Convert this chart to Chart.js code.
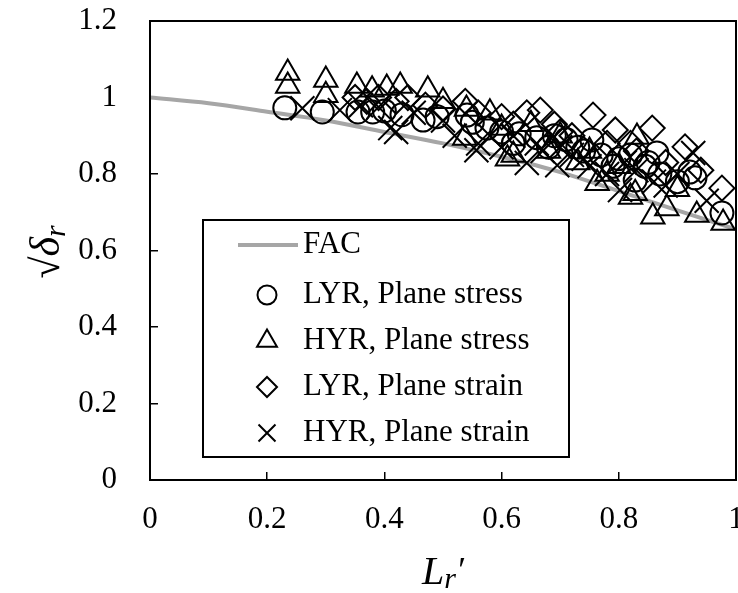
<!DOCTYPE html>
<html>
<head>
<meta charset="utf-8">
<script src="https://cdn.jsdelivr.net/npm/chart.js@4/dist/chart.umd.min.js"></script>
<style>
  html, body { margin: 0; padding: 0; background: #fff; overflow: hidden; }
</style>
</head>
<body>
<canvas id="chart" width="738" height="593"></canvas>
<script>
const SERIF = "'Liberation Serif', 'Times New Roman', serif";

// FAC curve
const facLr = [0, 0.1, 0.2, 0.3, 0.4, 0.5, 0.6, 0.7, 0.8, 0.9, 1.0];
const facVal = [1.0, 0.985, 0.963, 0.94, 0.91, 0.88, 0.845, 0.805, 0.755, 0.705, 0.655];

// [Lr', sqrt(delta_r)] pairs
const lyrStress = [
  [0.23, 0.973], [0.294, 0.962], [0.355, 0.962], [0.38, 0.962], [0.40, 0.965],
  [0.43, 0.955], [0.466, 0.941], [0.49, 0.95], [0.541, 0.954], [0.55, 0.935],
  [0.575, 0.92], [0.60, 0.91], [0.62, 0.88], [0.63, 0.905], [0.66, 0.895],
  [0.68, 0.87], [0.69, 0.90], [0.71, 0.89], [0.73, 0.87], [0.74, 0.86],
  [0.754, 0.889], [0.77, 0.85], [0.79, 0.82], [0.80, 0.84], [0.82, 0.85],
  [0.828, 0.784], [0.845, 0.82], [0.85, 0.83], [0.865, 0.855], [0.87, 0.80],
  [0.90, 0.78], [0.921, 0.805], [0.93, 0.79], [0.976, 0.698]
];
const hyrStress = [
  [0.235, 1.064], [0.235, 1.03], [0.30, 1.046], [0.30, 1.006], [0.353, 1.03],
  [0.379, 1.02], [0.404, 1.025], [0.427, 1.03], [0.474, 1.02], [0.50, 0.99],
  [0.537, 0.894], [0.54, 0.97], [0.58, 0.96], [0.60, 0.92], [0.61, 0.84],
  [0.62, 0.85], [0.65, 0.93], [0.68, 0.86], [0.70, 0.90], [0.73, 0.83],
  [0.75, 0.86], [0.763, 0.776], [0.78, 0.80], [0.80, 0.82], [0.82, 0.74],
  [0.828, 0.75], [0.831, 0.897], [0.858, 0.688], [0.882, 0.71], [0.90, 0.76],
  [0.933, 0.693], [0.978, 0.672]
];
const lyrStrain = [
  [0.35, 1.0], [0.37, 0.99], [0.39, 1.0], [0.42, 0.99], [0.44, 1.0],
  [0.47, 0.98], [0.50, 0.97], [0.538, 0.99], [0.56, 0.96], [0.60, 0.95],
  [0.62, 0.93], [0.643, 0.96], [0.666, 0.967], [0.69, 0.93], [0.70, 0.91],
  [0.72, 0.90], [0.756, 0.954], [0.78, 0.88], [0.794, 0.915], [0.82, 0.88],
  [0.83, 0.86], [0.857, 0.92], [0.88, 0.83], [0.913, 0.871], [0.94, 0.81],
  [0.976, 0.763]
];
const hyrStrain = [
  [0.26, 0.972], [0.324, 0.967], [0.36, 0.98], [0.39, 0.975], [0.41, 0.92],
  [0.42, 0.91], [0.45, 0.96], [0.50, 0.94], [0.52, 0.90], [0.557, 0.862],
  [0.56, 0.88], [0.58, 0.90], [0.60, 0.87], [0.62, 0.90], [0.643, 0.829],
  [0.66, 0.88], [0.67, 0.86], [0.695, 0.823], [0.70, 0.87], [0.72, 0.85],
  [0.74, 0.84], [0.75, 0.82], [0.78, 0.80], [0.802, 0.758], [0.81, 0.83],
  [0.83, 0.81], [0.86, 0.78], [0.88, 0.77], [0.90, 0.80], [0.927, 0.855],
  [0.95, 0.73]
];

const seriesLabels = ["FAC", "LYR, Plane stress", "HYR, Plane stress", "LYR, Plane strain", "HYR, Plane strain"];

function toPoints(pairs) {
  return pairs.map((p) => ({ x: p[0], y: p[1] }));
}

function markerSet(label, pairs, style, radius) {
  return {
    label: label,
    data: toPoints(pairs),
    pointStyle: style,
    pointRadius: radius,
    pointHoverRadius: radius,
    borderColor: "#000",
    backgroundColor: "rgba(0,0,0,0)",
    borderWidth: 2,
    showLine: false,
    order: 1,
  };
}

// tick labels like Excel: 0, 0.2, ... 1
function tickText(v) {
  return String(Math.round(v * 10) / 10);
}

// box round the plot area
const frame = {
  id: "frame",
  afterDatasetsDraw(chart) {
    const { ctx, chartArea: a } = chart;
    ctx.save();
    ctx.strokeStyle = "#000";
    ctx.lineWidth = 2;
    ctx.strokeRect(a.left, a.top, a.right - a.left, a.bottom - a.top);
    ctx.restore();
  },
};

// legend sits inside the plot
const legendRowY = [245, 295, 341, 387, 433];
const legendRadius = { circle: 9.5, triangle: 11.5, rectRot: 10, crossRot: 12 };
const insideLegend = {
  id: "insideLegend",
  afterDraw(chart) {
    const { ctx, chartArea: a } = chart;
    const x0 = a.left + 53, y0 = 220, w = 366, h = 237;
    ctx.save();
    ctx.fillStyle = "#fff";
    ctx.fillRect(x0, y0, w, h);
    ctx.strokeStyle = "#000";
    ctx.lineWidth = 2;
    ctx.strokeRect(x0, y0, w, h);

    chart.data.datasets.forEach((ds, i) => {
      const y = legendRowY[i];
      if (ds.showLine) {
        ctx.strokeStyle = ds.borderColor;
        ctx.lineWidth = ds.borderWidth;
        ctx.beginPath();
        ctx.moveTo(x0 + 35, y);
        ctx.lineTo(x0 + 95, y);
        ctx.stroke();
      } else {
        ctx.strokeStyle = "#000";
        ctx.fillStyle = "rgba(0,0,0,0)";
        ctx.lineWidth = 2;
        Chart.helpers.drawPoint(ctx, {
          pointStyle: ds.pointStyle,
          radius: legendRadius[ds.pointStyle],
          rotation: 0,
          borderWidth: 2,
        }, x0 + 64, y);
      }
      ctx.fillStyle = "#000";
      ctx.font = "31px " + SERIF;
      ctx.textBaseline = "middle";
      ctx.textAlign = "left";
      ctx.fillText(ds.label, x0 + 100, y);
    });
    ctx.restore();
  },
};

// axis titles with subscripts
function drawParts(ctx, parts, cx, baseline) {
  let total = 0;
  parts.forEach((p) => { ctx.font = p.font; p.w = ctx.measureText(p.text).width; total += p.w; });
  let x = cx - total / 2;
  parts.forEach((p) => {
    ctx.font = p.font;
    ctx.fillText(p.text, x, baseline + (p.dy || 0));
    x += p.w;
  });
}

const axisTitles = {
  id: "axisTitles",
  afterDraw(chart) {
    const ctx = chart.ctx;
    ctx.save();
    ctx.fillStyle = "#000";
    ctx.textBaseline = "alphabetic";
    ctx.textAlign = "left";
    drawParts(ctx, [
      { text: "L", font: "italic 40px " + SERIF },
      { text: "r", font: "italic 30px " + SERIF, dy: 4 },
      { text: "\u2032", font: "italic 36px " + SERIF, dy: -2 },
    ], 443, 584);

    ctx.translate(45, 252);
    ctx.rotate(-Math.PI / 2);
    drawParts(ctx, [
      { text: "\u221A", font: "40px " + SERIF },
      { text: "\u03B4", font: "italic 42px " + SERIF },
      { text: "r", font: "italic 30px " + SERIF, dy: 6 },
    ], 0, 14);
    ctx.restore();
  },
};

const ctx = document.getElementById("chart").getContext("2d");
const chart = new Chart(ctx, {
  type: "scatter",
  data: {
    datasets: [
      {
        label: seriesLabels[0],
        data: facLr.map((x, i) => ({ x: x, y: facVal[i] })),
        showLine: true,
        borderColor: "#a6a6a6",
        borderWidth: 4,
        pointRadius: 0,
        pointHoverRadius: 0,
        cubicInterpolationMode: "monotone",
        fill: false,
        order: 5,
      },
      markerSet(seriesLabels[1], lyrStress, "circle", 11.5),
      markerSet(seriesLabels[2], hyrStress, "triangle", 13.5),
      markerSet(seriesLabels[3], lyrStrain, "rectRot", 12.5),
      markerSet(seriesLabels[4], hyrStrain, "crossRot", 17),
    ],
  },
  options: {
    responsive: false,
    animation: false,
    devicePixelRatio: 1,
    layout: { padding: 0, autoPadding: false },
    plugins: {
      legend: { display: false },
      tooltip: { enabled: false },
      title: { display: false },
    },
    scales: {
      x: {
        type: "linear",
        min: 0,
        max: 1,
        ticks: { stepSize: 0.2, padding: 29, color: "#000", font: { family: SERIF, size: 31 }, callback: tickText },
        grid: { drawOnChartArea: false, tickLength: -8, color: "#000", lineWidth: 1.5 },
        border: { display: true, color: "#000", width: 2 },
        afterFit(scale) {
          scale.height = 113;
          scale.paddingLeft = 0;
          scale.paddingRight = 2; // "1" is cut by the edge, as in the original
        },
      },
      y: {
        type: "linear",
        min: 0,
        max: 1.2,
        ticks: { stepSize: 0.2, padding: 41, color: "#000", font: { family: SERIF, size: 31 }, callback: tickText },
        grid: { drawOnChartArea: false, tickLength: -8, color: "#000", lineWidth: 1.5 },
        border: { display: true, color: "#000", width: 2 },
        afterFit(scale) {
          scale.width = 150;
          scale.paddingTop = 21;
          scale.paddingBottom = 0;
        },
      },
    },
  },
  plugins: [frame, insideLegend, axisTitles],
});
</script>
</body>
</html>
